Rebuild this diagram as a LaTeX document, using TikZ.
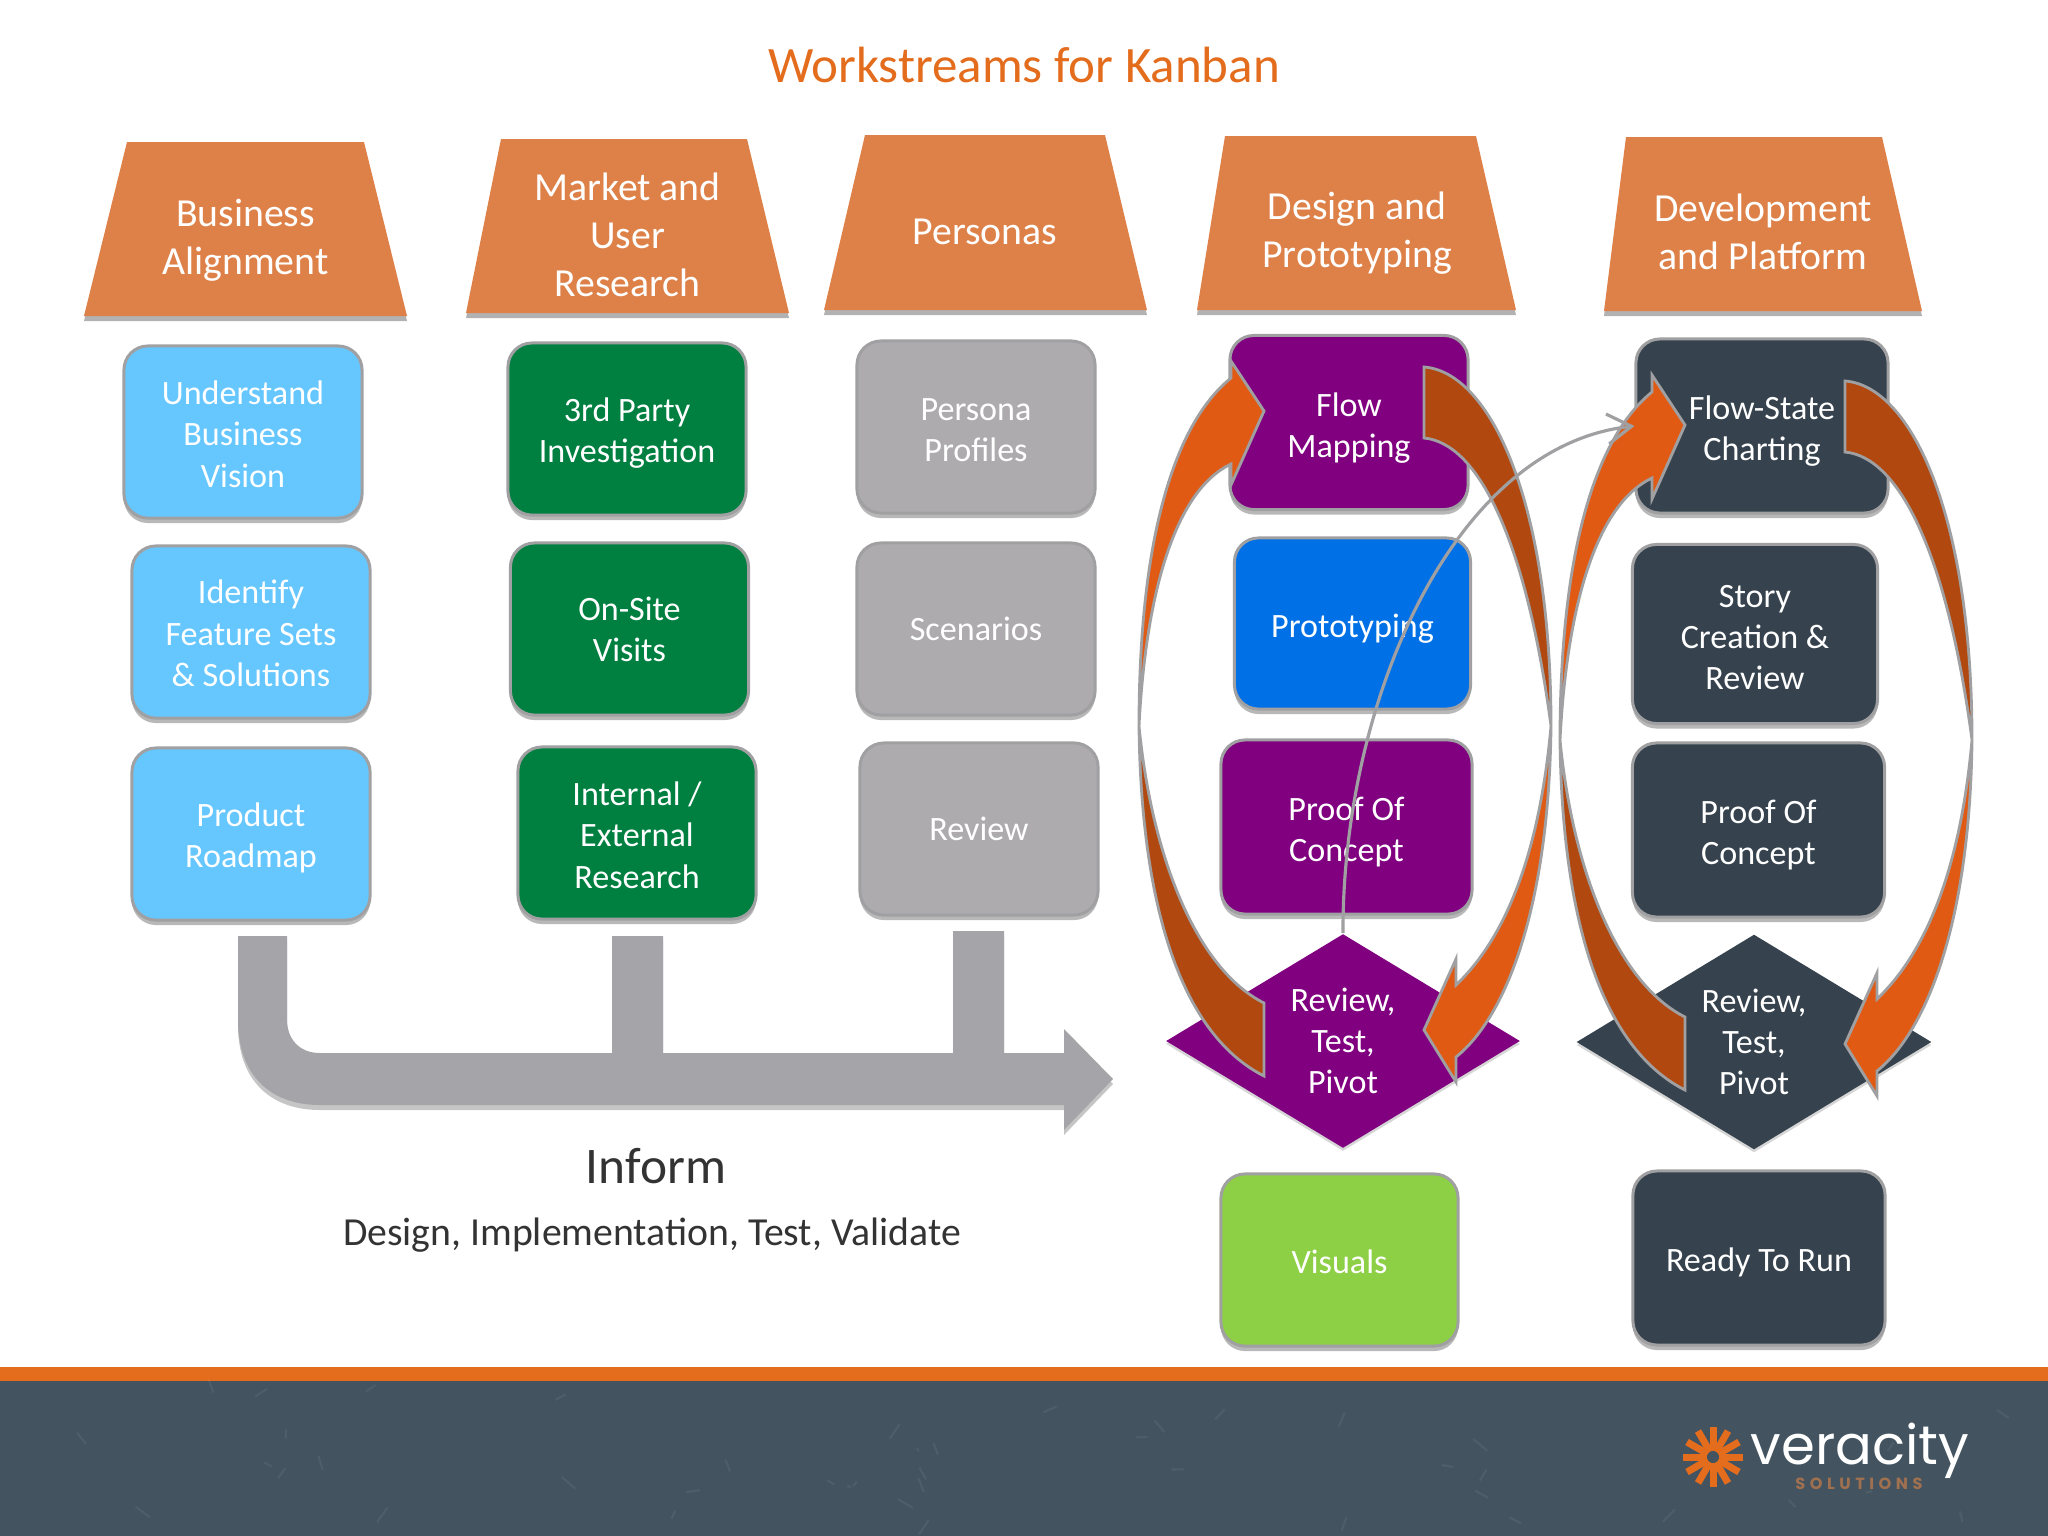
\documentclass[tikz,border=0pt]{standalone}
\usepackage{fontspec}
\setmainfont{Carlito}
\newfontfamily\logofont{Poppins}
\newfontfamily\logosmall[LetterSpace=28]{Poppins}
\usetikzlibrary{arrows.meta, shapes.geometric, shadows}

\newcommand{\firstline}[1]{\rule{0pt}{#1pt}}

\definecolor{headorange}{HTML}{DE8149}
\definecolor{titleorange}{HTML}{E36C1D}
\definecolor{arrowlight}{HTML}{E05A14}
\definecolor{arrowdark}{HTML}{B0480F}
\definecolor{edgegrey}{HTML}{A0A0A2}
\definecolor{informgrey}{HTML}{A5A4A8}
\definecolor{skyblue}{HTML}{66C7FF}
\definecolor{studygreen}{HTML}{008040}
\definecolor{personagrey}{HTML}{ADABAE}
\definecolor{designpurple}{HTML}{800080}
\definecolor{protoblue}{HTML}{0070E6}
\definecolor{visualgreen}{HTML}{8DCF45}
\definecolor{platformdark}{HTML}{36434E}
\definecolor{footerdark}{HTML}{435460}
\definecolor{logobrown}{HTML}{A0704F}

\begin{document}
\begin{tikzpicture}[
    x=0.01cm, y=-0.01cm,
    headshape/.style={fill=headorange, drop shadow={shadow xshift=0cm, shadow yshift=-0.05cm, fill=black!55, opacity=.55}},
    head/.style={text=white, align=center, inner sep=0pt, font=\fontsize{11.3}{13.7}\selectfont},
    card/.style={rectangle, rounded corners=0.24cm, draw=edgegrey, line width=0.85pt, minimum width=2.38cm, minimum height=1.72cm,
        inner sep=0pt, text=white, align=center, font=\fontsize{9.7}{11.7}\selectfont,
        drop shadow={shadow xshift=0cm, shadow yshift=-0.05cm, fill=black!55, opacity=.5}},
    gate/.style={diamond, inner sep=0pt, minimum width=3.54cm, minimum height=2.14cm, text=white, align=center,
        font=\fontsize{9.7}{11.7}\selectfont,
        drop shadow={shadow xshift=0cm, shadow yshift=-0.03cm, fill=black!40, opacity=.4}},
    looparrow/.style={draw=edgegrey, line width=0.8pt, line join=miter},
    informarrow/.style={-{Straight Barb[length=2.4mm, width=3mm]}, draw=edgegrey, line width=0.9pt},
]

\path[use as bounding box] (0,0) rectangle (2048,1536);
\fill[white] (0,0) rectangle (2048,1536);

\node[text=titleorange, font=\fontsize{14.5}{17}\selectfont] (title) at (1024,65) {Workstreams for Kanban};

% column heads
\fill[headshape] (127,142) -- (364,142) -- (407,316) -- (84,316) -- cycle;
\fill[headshape] (501,139) -- (747,139) -- (789,313) -- (466,313) -- cycle;
\fill[headshape] (865,135) -- (1105,135) -- (1147,310) -- (824,310) -- cycle;
\fill[headshape] (1225,136) -- (1476,136) -- (1516,310) -- (1197,310) -- cycle;
\fill[headshape] (1626,137) -- (1882,137) -- (1922,311) -- (1604,311) -- cycle;

\node[head] (business) at (245.5,240.5) {Business\\Alignment};
\node[head] (market) at (627.5,235) {Market and\\User\\Research};
\node[head] (personas) at (985,232) {Personas};
\node[head] (design) at (1357,233.5) {Design and\\Prototyping};
\node[head] (development) at (1763,232) {Development\\and Platform};

\node[card, fill=skyblue] (vision) at (243,432) {\firstline{8}Understand\\Business\\Vision};
\node[card, fill=skyblue] (features) at (251,632) {\firstline{7.5}Identify\\Feature Sets\\\& Solutions};
\node[card, fill=skyblue] (roadmap) at (251,834) {\firstline{9}Product\\Roadmap};

\node[card, fill=studygreen] (party) at (627,429) {\firstline{9}3rd Party\\Investigation};
\node[card, fill=studygreen] (onsite) at (629.5,629) {On-Site\\Visits};
\node[card, fill=studygreen] (internal) at (637,833) {\firstline{8}Internal /\\External\\Research};

\node[card, fill=personagrey] (profiles) at (976,427) {\firstline{8}Persona\\Profiles};
\node[card, fill=personagrey] (scenarios) at (976,629) {Scenarios};
\node[card, fill=personagrey] (review) at (979,829) {Review};

\node[card, fill=designpurple, minimum height=1.74cm] (flowmap) at (1349,422.5) {\firstline{10}Flow\\Mapping};
\node[card, fill=protoblue, minimum width=2.36cm, minimum height=1.71cm] (proto) at (1352.5,623.5) {\firstline{9.5}Prototyping};
\node[card, fill=designpurple, minimum width=2.51cm, minimum height=1.74cm] (proofd) at (1346.5,827) {\firstline{9.5}Proof Of\\Concept};
\node[gate, fill=designpurple] (gated) at (1343,1041) {Review,\\Test,\\Pivot};
\node[card, fill=visualgreen, minimum width=2.37cm] (visuals) at (1339.5,1260) {\firstline{8}Visuals};

\node[card, fill=platformdark, minimum width=2.52cm, minimum height=1.74cm] (flowstate) at (1762,426) {\firstline{9.5}Flow-State\\Charting};
\node[card, fill=platformdark, minimum width=2.45cm, minimum height=1.79cm] (story) at (1755,634) {\firstline{8.5}Story\\Creation \&\\Review};
\node[card, fill=platformdark, minimum width=2.52cm, minimum height=1.74cm] (proofp) at (1758.5,830) {\firstline{9.5}Proof Of\\Concept};
\node[gate, fill=platformdark, minimum width=3.55cm, minimum height=2.15cm] (gatep) at (1754,1042) {Review,\\Test,\\Pivot};
\node[card, fill=platformdark, minimum width=2.52cm, minimum height=1.74cm] (ready) at (1759,1258) {\firstline{9.5}Ready To Run};

% inform arrow with its two branches
\fill[informgrey, drop shadow={shadow xshift=0cm, shadow yshift=-0.05cm, fill=black!50, opacity=.45}]
    (238,936) -- (287,936) -- (287,1019) .. controls (287,1040) and (300,1053) .. (320,1053)
    -- (612,1053) -- (612,936) -- (663,936) -- (663,1053)
    -- (953,1053) -- (953,931) -- (1004,931) -- (1004,1053)
    -- (1064,1053) -- (1064,1029) -- (1113,1079) -- (1064,1130) -- (1064,1105)
    -- (320,1105) .. controls (270,1105) and (238,1075) .. (238,1020) -- cycle;

\node[text=black!80, font=\fontsize{14.6}{17}\selectfont] (inform) at (656,1166) {Inform};
\node[text=black!80, font=\fontsize{11.3}{13}\selectfont] (usage) at (652,1235.5) {Design, Implementation, Test, Validate};

% curved loops, second one is the first moved over
\foreach \sx/\sy in {0/0, 421/14} {
\begin{scope}[shift={(\sx,\sy)}]
\filldraw[looparrow, fill=arrowdark]
    (1139,726) .. controls (1152,860) and (1198,970) .. (1264,1003)
    -- (1264,1076) .. controls (1179,1033) and (1141,901) .. cycle;
\filldraw[looparrow, fill=arrowdark]
    (1424,367) .. controls (1490,372) and (1551,501) .. (1551,726)
    .. controls (1526,539) and (1478,443) .. (1424,438) -- cycle;
\filldraw[looparrow, fill=arrowlight]
    (1139,726) .. controls (1139,539) and (1174,424) .. (1231,378)
    -- (1231,361) -- (1264,411) -- (1231,485) -- (1231,464)
    .. controls (1176,490) and (1146,590) .. cycle;
\filldraw[looparrow, fill=arrowlight]
    (1551,726) .. controls (1538,870) and (1498,945) .. (1456,985)
    -- (1456,959) -- (1424,1030) -- (1456,1082) -- (1456,1057)
    .. controls (1506,1017) and (1549,907) .. cycle;
\end{scope}
}

\draw[informarrow] (gated.north) .. controls (1342,704) and (1452,446) .. (flowstate.west);

% footer
\fill[footerdark] (0,1381) rectangle (2048,1536);
\fill[titleorange] (0,1367) rectangle (2048,1381);
\pgfmathsetseed{7}
\foreach \i in {1,...,45} {
    \draw[white, opacity=.06, line width=0.6pt] ({rnd*2048},{1390+rnd*140}) -- ++({-15+rnd*30},{-15+rnd*30});
}

\foreach \a in {0,30,...,330} {
    \draw[titleorange, line width=2pt] (1713,1457) ++(\a:6) -- ++(\a:24);
}
\node[text=white, font=\logofont\fontsize{15.5}{16}\selectfont, anchor=west, inner sep=0pt] (veracity) at (1750,1451) {veracity};
\node[text=logobrown, font=\logosmall\bfseries\fontsize{4.6}{5}\selectfont, anchor=center, inner sep=0pt] (solutions) at (1859,1484) {SOLUTIONS};

\end{tikzpicture}
\end{document}
